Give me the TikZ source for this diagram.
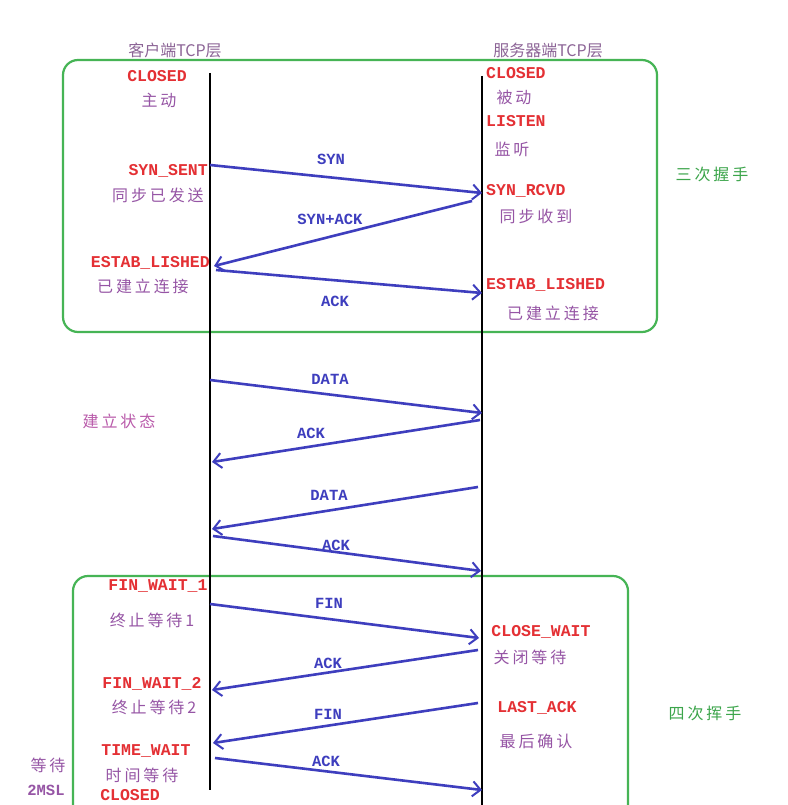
\documentclass[tikz,border=0pt]{standalone}
\usepackage{fontspec}
\setmainfont{Liberation Serif}
\newfontfamily\monob{Liberation Mono}
\newfontfamily\cjk[LetterSpace=18]{Noto Sans CJK SC}
\newfontfamily\cjkh{Noto Sans CJK SC}
\usetikzlibrary{arrows.meta}
\definecolor{stred}{RGB}{228,48,52}
\definecolor{stpur}{RGB}{150,85,165}
\definecolor{hdpur}{RGB}{140,100,150}
\definecolor{arblue}{RGB}{62,62,190}
\definecolor{bxgreen}{RGB}{70,180,85}
\definecolor{lbgreen}{RGB}{60,165,75}
\definecolor{estpur}{RGB}{185,90,170}
\tikzset{
  state/.style={text=stred,font=\fontsize{16.5}{16.5}\selectfont\monob\bfseries,inner sep=0pt},
  cn/.style={text=stpur,font=\fontsize{16}{16}\selectfont\cjk,inner sep=0pt},
  hdr/.style={text=hdpur,font=\fontsize{16}{16}\selectfont\cjkh,inner sep=0pt},
  msg/.style={text=arblue,font=\fontsize{15.5}{15.5}\selectfont\monob\bfseries,inner sep=0pt},
  grp/.style={text=lbgreen,font=\fontsize{16}{16}\selectfont\cjk,inner sep=0pt},
  life/.style={draw=black,line width=2.8pt},
  box/.style={draw=bxgreen,line width=2.2pt,rounded corners=15pt},
  arr/.style={draw=arblue,line width=2.6pt,-{Straight Barb[length=8pt,width=15pt,line width=2pt]}},
}
\begin{document}
\begin{tikzpicture}[x=1pt,y=-1pt]
\useasboundingbox[fill=white] (0,0) rectangle (787,805);
% group boxes
\draw[box] (63,60) rectangle (657,332);
\draw[box] (73,810) -- (73,576) -- (628,576) -- (628,810);
% lifelines
\coordinate (c0) at (210,73); \coordinate (c1) at (210,790);
\coordinate (s0) at (482,76); \coordinate (s1) at (482,805);
\draw[life] (c0) -- (c1);
\draw[life] (s0) -- (s1);
% headers
\node[hdr] (hc) at (175,50) {客户端TCP层};
\node[hdr] (hs) at (548,50) {服务器端TCP层};
% client states
\node[state] (cclosed) at (157,76) {CLOSED};
\node[cn] (czd) at (159,100) {主动};
\node[state,anchor=east] (csynsent) at (208,171) {SYN\_SENT};
\node[cn] (ctbyfs) at (158,195) {同步已发送};
\node[state,anchor=east] (cest) at (210,263) {ESTAB\_LISHED};
\node[cn] (cyjlj) at (143,286) {已建立连接};
% server states
\node[state,anchor=west] (sclosed) at (486,73) {CLOSED};
\node[cn] (sbd) at (514,97) {被动};
\node[state,anchor=west] (slisten) at (486,121) {LISTEN};
\node[cn] (sjt) at (512,149) {监听};
\node[state,anchor=west] (ssynrcvd) at (486,191) {SYN\_RCVD};
\node[cn] (stbsd) at (536,216) {同步收到};
\node[state,anchor=west] (sest) at (486,285) {ESTAB\_LISHED};
\node[cn] (syjlj) at (553,313) {已建立连接};
% group labels
\node[grp] (g3) at (712,174) {三次握手};
\node[cn,text=estpur] (jlzt) at (119,421) {建立状态};
\node[grp] (g4) at (705,713) {四次挥手};
% closing states client
\node[state] (fw1) at (158,586) {FIN\_WAIT\_1};
\node[cn] (zzdd1) at (152,620) {终止等待1};
\node[state] (fw2) at (152,684) {FIN\_WAIT\_2};
\node[cn] (zzdd2) at (154,707) {终止等待2};
\node[state] (tw) at (146,751) {TIME\_WAIT};
\node[cn] (sjdd) at (142,775) {时间等待};
\node[state] (cclosed2) at (130,795) {CLOSED};
\node[cn] (dd) at (48,765) {等待};
\node[text=stpur,font=\fontsize{15.5}{15.5}\selectfont\monob\bfseries,inner sep=0pt] (msl) at (46,790) {2MSL};
% closing states server
\node[state] (cw) at (541,632) {CLOSE\_WAIT};
\node[cn] (gbdd) at (530,657) {关闭等待};
\node[state] (lack) at (537,708) {LAST\_ACK};
\node[cn] (zhqr) at (536,741) {最后确认};
% arrow endpoints
\coordinate (a1s) at (210,165); \coordinate (a1e) at (482,193);
\coordinate (a2s) at (472,201); \coordinate (a2e) at (214,266);
\coordinate (a3s) at (216,270); \coordinate (a3e) at (482,293);
\coordinate (a4s) at (210,380); \coordinate (a4e) at (482,413);
\coordinate (a5s) at (480,420); \coordinate (a5e) at (212,462);
\coordinate (a6s) at (478,487); \coordinate (a6e) at (212,529);
\coordinate (a7s) at (213,536); \coordinate (a7e) at (481,571);
\coordinate (a8s) at (210,604); \coordinate (a8e) at (479,638);
\coordinate (a9s) at (478,650); \coordinate (a9e) at (212,690);
\coordinate (a10s) at (478,703); \coordinate (a10e) at (213,743);
\coordinate (a11s) at (215,758); \coordinate (a11e) at (482,790);
\draw[arr] (a1s) -- (a1e);
\draw[arr] (a2s) -- (a2e);
\draw[arr] (a3s) -- (a3e);
\draw[arr] (a4s) -- (a4e);
\draw[arr] (a5s) -- (a5e);
\draw[arr] (a6s) -- (a6e);
\draw[arr] (a7s) -- (a7e);
\draw[arr] (a8s) -- (a8e);
\draw[arr] (a9s) -- (a9e);
\draw[arr] (a10s) -- (a10e);
\draw[arr] (a11s) -- (a11e);
% message labels
\node[msg] (m1) at (331,159) {SYN};
\node[msg] (m2) at (330,219) {SYN+ACK};
\node[msg] (m3) at (335,301) {ACK};
\node[msg] (m4) at (330,379) {DATA};
\node[msg] (m5) at (311,433) {ACK};
\node[msg] (m6) at (329,495) {DATA};
\node[msg] (m7) at (336,545) {ACK};
\node[msg] (m8) at (329,603) {FIN};
\node[msg] (m9) at (328,663) {ACK};
\node[msg] (m10) at (328,714) {FIN};
\node[msg] (m11) at (326,761) {ACK};
\end{tikzpicture}
\end{document}
